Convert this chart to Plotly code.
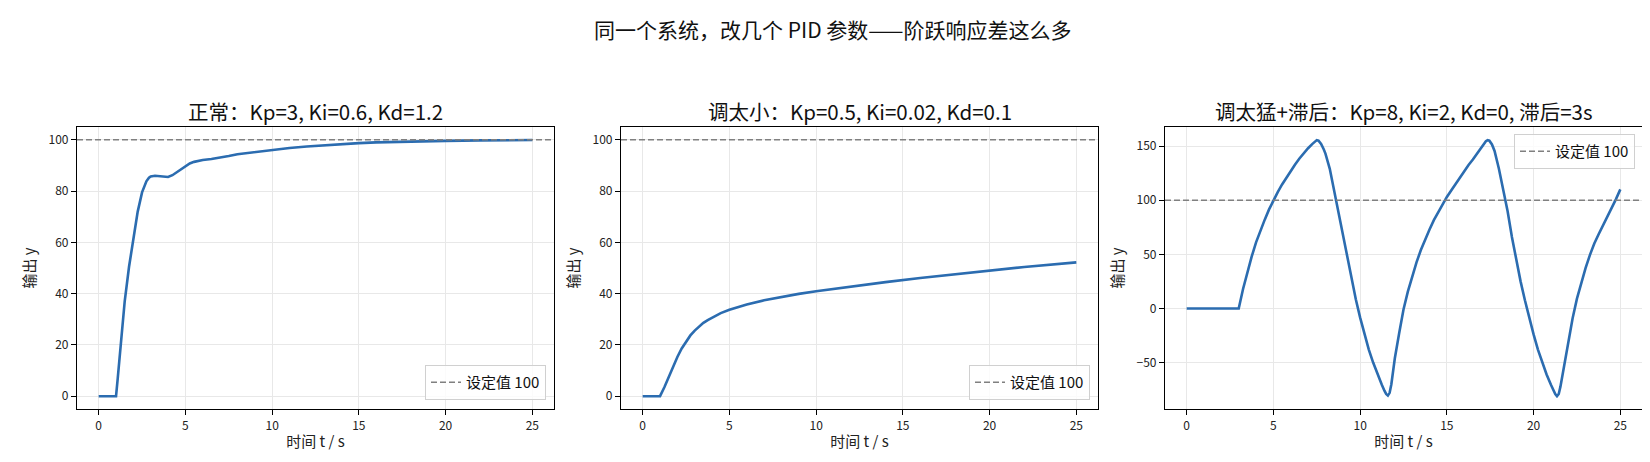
import plotly.graph_objects as go
from plotly.subplots import make_subplots

# 正常: Kp=3, Ki=0.6, Kd=1.2
t_normal = [0, 1.0, 1.1, 1.25, 1.5, 1.75, 2.0, 2.25, 2.5, 2.75, 2.9, 3.0, 3.25, 3.5, 3.75,
            4.0, 4.25, 4.5, 4.75, 5.0, 5.25, 5.5, 5.75, 6.0, 6.5, 7.0, 7.5, 8.0, 9.0,
            10.0, 11.0, 12.0, 13.0, 14.0, 15.0, 16.0, 17.0, 18.0, 20.0, 22.0, 25.0]
y_normal = [0, 0, 7, 19, 37, 50.5, 62, 72, 79.5, 83.8, 85.2, 85.7, 86, 85.8, 85.5,
            85.5, 86.2, 87.4, 88.7, 89.9, 90.8, 91.4, 91.8, 92.1, 92.5, 93, 93.7, 94.4, 95.3,
            96.1, 96.8, 97.4, 97.9, 98.3, 98.7, 99.0, 99.2, 99.4, 99.6, 99.8, 99.9]

# 调太小: Kp=0.5, Ki=0.02, Kd=0.1
t_small = [0, 1.0, 1.25, 1.5, 1.75, 2.0, 2.25, 2.5, 2.75, 3.0, 3.25, 3.5, 3.75, 4.0,
           4.5, 5.0, 5.5, 6.0, 7.0, 8.0, 9.0, 10.0, 12.0, 14.0, 16.0, 18.0, 20.0,
           22.0, 25.0]
y_small = [0, 0, 3.5, 7.5, 11.5, 15.3, 18.6, 21.4, 23.7, 25.6, 27.2, 28.6, 29.7, 30.7,
           32.4, 33.7, 34.8, 35.8, 37.4, 38.7, 39.9, 40.9, 42.8, 44.5, 46.1, 47.6, 49.0,
           50.4, 52.2]

# 调太猛+滞后: Kp=8, Ki=2, Kd=0, 滞后=3s
t_lag = [0, 3.0, 3.25, 3.5, 3.75, 4.0, 4.25, 4.5, 4.75, 5.0, 5.25, 5.5, 5.75, 6.0,
         6.25, 6.5, 6.75, 7.0, 7.25, 7.4, 7.5, 7.6, 7.75, 7.9, 8.0, 8.25, 8.5, 8.75,
         9.0, 9.25, 9.5, 9.75, 10.0, 10.25, 10.5, 10.75, 11.0, 11.25, 11.4, 11.5, 11.6,
         11.7, 11.8, 11.9, 12.0, 12.25, 12.5, 12.75, 13.0, 13.25, 13.5, 13.75, 14.0,
         14.25, 14.5, 14.75, 15.0, 15.25, 15.5, 15.75, 16.0, 16.25, 16.5, 16.75, 17.0,
         17.15, 17.25, 17.35, 17.45, 17.6, 17.75, 18.0, 18.25, 18.5, 18.75, 19.0,
         19.25, 19.5, 19.75, 20.0, 20.25, 20.5, 20.75, 21.0, 21.15, 21.25, 21.35,
         21.45, 21.55, 21.65, 21.75, 22.0, 22.25, 22.5, 22.75, 23.0, 23.25, 23.5,
         23.75, 24.0, 24.25, 24.5, 24.75, 25.0]
y_lag = [0, 0, 18, 34, 48, 61, 72, 82, 91.5, 100, 107.5, 114.5, 121, 127,
         133, 138.5, 143.5, 148, 152, 154.5, 155.5, 155, 152, 147, 143, 129, 109, 88,
         67, 46.5, 27, 8.5, -8.5, -24, -38, -50, -61, -70.5, -76, -79, -80.5,
         -78, -70, -58, -46, -23, -1, 15.5, 29.5, 42.5, 54, 64, 73,
         81.5, 89, 96.5, 103, 109, 115, 121, 127, 132.5, 137.5, 143, 148,
         152, 154.5, 155.5, 155, 151.5, 145.5, 129, 110, 90, 66, 44,
         25, 7.5, -9, -24, -38, -50, -61, -70.5, -76, -79, -81,
         -79, -72, -63, -55, -33, -9, 9, 24, 37.5, 49.5, 60,
         68.5, 76.5, 84.5, 92, 101, 110]

setpoint = 100
titles = ["正常：Kp=3, Ki=0.6, Kd=1.2",
          "调太小：Kp=0.5, Ki=0.02, Kd=0.1",
          "调太猛+滞后：Kp=8, Ki=2, Kd=0, 滞后=3s"]
suptitle = "同一个系统，改几个 PID 参数——阶跃响应差这么多"

W, H = 1650, 462
FONT = "Noto Sans CJK SC, Microsoft YaHei, sans-serif"
BLUE = "#2b6cb0"

fig = make_subplots(rows=1, cols=3)

series = [(t_normal, y_normal), (t_small, y_small), (t_lag, y_lag)]
# pixel boxes of the three axes (left, right), shared top/bottom
boxes = [(69, 546), (613, 1090), (1157, 1634)]
top, bottom = 119, 401
legend_names = ["legend", "legend2", "legend3"]

for i, (t, y) in enumerate(series):
    col = i + 1
    fig.add_trace(go.Scatter(x=t, y=y, mode="lines",
                             line=dict(color=BLUE, width=2.6),
                             showlegend=False, hoverinfo="x+y"), row=1, col=col)
    fig.add_trace(go.Scatter(x=[-1.25, 26.25], y=[setpoint, setpoint], mode="lines",
                             line=dict(color="#808080", width=1.6, dash="6px,3px"),
                             name="设定值 100", legend=legend_names[i]), row=1, col=col)

yranges = [[-5, 105], [-5, 105], [-92.9, 167.6]]
ytickvals = [[0, 20, 40, 60, 80, 100], [0, 20, 40, 60, 80, 100], [-50, 0, 50, 100, 150]]

for i in range(3):
    col = i + 1
    l, r = boxes[i]
    fig.update_xaxes(row=1, col=col, domain=[l / W, r / W], range=[-1.25, 26.25],
                     tickvals=[0, 5, 10, 15, 20, 25],
                     title=dict(text="时间 t / s", font=dict(size=15, color="#222"), standoff=4))
    fig.update_yaxes(row=1, col=col, domain=[(H - bottom) / H, (H - top) / H],
                     range=yranges[i], tickvals=ytickvals[i],
                     title=dict(text="输出 y", font=dict(size=15, color="#222"), standoff=9))
    fig.add_annotation(text=titles[i], x=(l + r) / 2 / W, y=(H - 102.5) / H,
                       xref="paper", yref="paper", xanchor="center", yanchor="middle",
                       showarrow=False, font=dict(size=20.5, color="#111"))

axis_style = dict(showline=True, mirror=True, linecolor="black", linewidth=1.2,
                  ticks="outside", ticklen=5, tickcolor="black", zeroline=False,
                  showgrid=True, gridcolor="#e8e8e8", gridwidth=1,
                  tickfont=dict(size=12, color="#222"))
fig.update_xaxes(**axis_style)
fig.update_yaxes(**axis_style)

fig.add_annotation(text=suptitle, x=0.5, y=(H - 20.5) / H, xref="paper", yref="paper",
                   xanchor="center", yanchor="middle", showarrow=False,
                   font=dict(size=21, color="#111"))

leg_style = dict(bgcolor="rgba(255,255,255,0.8)", bordercolor="#d0d0d0", borderwidth=1,
                 font=dict(size=15, color="#111"), itemwidth=30)
fig.update_layout(
    width=W, height=H,
    margin=dict(l=0, r=0, t=0, b=0),
    paper_bgcolor="white", plot_bgcolor="white",
    font=dict(family=FONT),
    legend=dict(x=(546 - 8) / W, y=(H - 392) / H, xanchor="right", yanchor="bottom", **leg_style),
    legend2=dict(x=(1090 - 8) / W, y=(H - 392) / H, xanchor="right", yanchor="bottom", **leg_style),
    legend3=dict(x=1627 / W, y=(H - 126) / H, xanchor="right", yanchor="top", **leg_style),
)

fig.write_html("out.html")
